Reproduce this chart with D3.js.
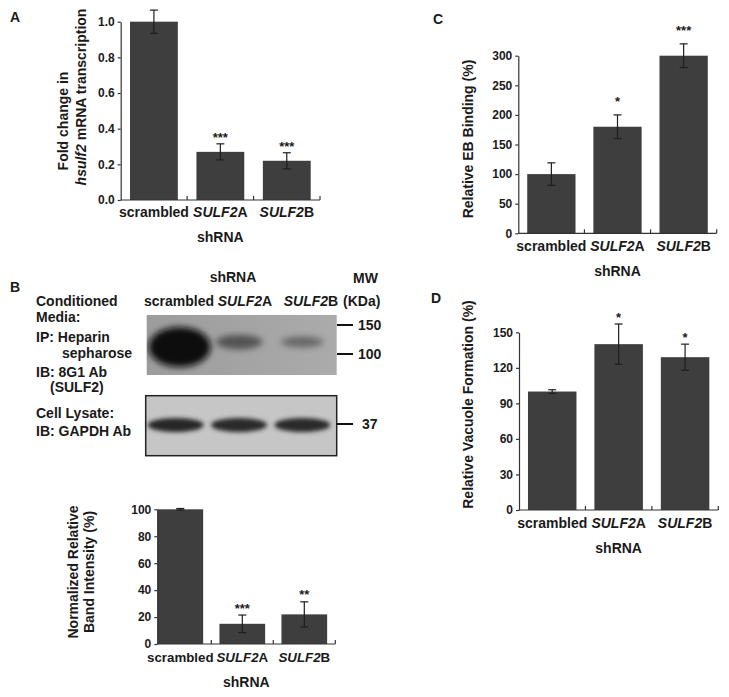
<!DOCTYPE html>
<html>
<head>
<meta charset="utf-8">
<script src="https://cdn.jsdelivr.net/npm/d3@7/dist/d3.min.js"></script>
<style>
  body { margin: 0; background: #fff; }
  text { font-family: "Liberation Sans", Arial, sans-serif; font-weight: bold; fill: #1a1a1a; }
</style>
</head>
<body>
<div id="fig"></div>
<script>
const WIDTH = 729;
const HEIGHT = 697;

// data
const categories = ['scrambled', 'SULF2A', 'SULF2B'];

const mrnaFold = [1.0, 0.27, 0.22];
const mrnaErr = [0.065, 0.045, 0.045];
const mrnaStars = ['', '***', '***'];
const mrnaTicks = [0, 0.2, 0.4, 0.6, 0.8, 1.0];

const ebBinding = [100, 180, 300];
const ebErr = [19, 20, 20];
const ebStars = ['', '*', '***'];
const ebTicks = [0, 50, 100, 150, 200, 250, 300];

const vacuole = [100, 140, 129];
const vacuoleErr = [1.5, 17, 11];
const vacuoleStars = ['', '*', '*'];
const vacuoleTicks = [0, 30, 60, 90, 120, 150];

const bandIntensity = [100, 15, 22];
const bandErr = [0.6, 6.5, 9.3];
const bandStars = ['', '***', '**'];
const bandTicks = [0, 20, 40, 60, 80, 100];

// western blot, relative darkness of each lane
const sulf2Blot = [1.0, 0.45, 0.3];
const gapdhBlot = [1.0, 0.96, 0.96];
const mwTop = ['150', '100'];
const mwBottom = ['37'];

const BAR_COLOR = '#3e3e3e';
const INK = '#1e1e1e';

const svg = d3.select('#fig')
  .append('svg')
    .attr('width', WIDTH)
    .attr('height', HEIGHT);

svg.append('rect').attr('width', WIDTH).attr('height', HEIGHT).attr('fill', '#fff');

// category label with italic "SULF2"
function catLabel(sel, c) {
  if (c.startsWith('SULF2')) {
    sel.append('tspan').attr('font-style', 'italic').text('SULF2');
    sel.append('tspan').text(c.slice(5));
  } else {
    sel.text(c);
  }
}

function barPanel(p) {
  const x = d3.scaleBand()
    .domain(categories)
    .range([p.bandStart, p.x1])
    .paddingInner(p.pad)
    .paddingOuter(p.pad / 2);
  const y = d3.scaleLinear()
    .domain([0, d3.max(p.ticks)])
    .range([p.y0, p.y1]);

  const g = svg.append('g');

  g.selectAll('.bar')
    .data(p.values)
    .enter()
    .append('rect')
      .attr('x', (d, i) => x(categories[i]))
      .attr('y', d => y(d))
      .attr('width', x.bandwidth())
      .attr('height', d => y(0) - y(d))
      .attr('fill', BAR_COLOR);

  // error bars
  p.values.forEach((v, i) => {
    const cx = x(categories[i]) + x.bandwidth() / 2;
    const e = p.errs[i];
    g.append('line')
      .attr('x1', cx).attr('x2', cx)
      .attr('y1', y(v - e)).attr('y2', y(v + e))
      .attr('stroke', INK).attr('stroke-width', 1.2);
    [v - e, v + e].forEach(t => {
      g.append('line')
        .attr('x1', cx - 4).attr('x2', cx + 4)
        .attr('y1', y(t)).attr('y2', y(t))
        .attr('stroke', INK).attr('stroke-width', 1.2);
    });
    if (p.stars[i]) {
      g.append('text')
        .attr('x', cx)
        .attr('y', y(v + e) - p.starGap + 7.5)
        .attr('text-anchor', 'middle')
        .attr('font-size', '13px')
        .attr('font-weight', 'normal')
        .text(p.stars[i]);
    }
  });

  // y axis
  const ax = g.append('g')
    .attr('transform', 'translate(' + p.x0 + ',0)')
    .call(d3.axisLeft(y).tickValues(p.ticks).tickFormat(d3.format(p.fmt))
      .tickSize(3).tickSizeOuter(0).tickPadding(3));
  ax.selectAll('text')
    .attr('font-size', '12px')
    .attr('font-family', '"Liberation Sans", Arial, sans-serif')
    .attr('font-weight', 'bold')
    .attr('fill', INK);
  ax.selectAll('path, line').attr('stroke', '#333').attr('stroke-width', 1.2);

  // x axis with ticks between categories
  g.append('line')
    .attr('x1', p.x0).attr('x2', p.x1)
    .attr('y1', y(0)).attr('y2', y(0))
    .attr('stroke', '#333').attr('stroke-width', 1.2);
  categories.forEach(c => {
    const tx = x(c) + x.bandwidth() + x.step() * p.pad / 2;
    g.append('line')
      .attr('x1', tx).attr('x2', tx)
      .attr('y1', y(0)).attr('y2', y(0) - 4)
      .attr('stroke', '#333').attr('stroke-width', 1.2);
  });

  categories.forEach(c => {
    g.append('text')
      .attr('x', x(c) + x.bandwidth() / 2)
      .attr('y', y(0) + p.catGap)
      .attr('text-anchor', 'middle')
      .attr('font-size', p.catSize || '14px')
      .call(catLabel, c);
  });

  g.append('text')
    .attr('x', (p.x0 + p.x1) / 2)
    .attr('y', y(0) + p.catGap + 25)
    .attr('text-anchor', 'middle')
    .attr('font-size', '14px')
    .text('shRNA');

  return g;
}

function yLabel(x, y, parts) {
  const t = svg.append('text')
    .attr('transform', 'translate(' + x + ',' + y + ') rotate(-90)')
    .attr('text-anchor', 'middle')
    .attr('font-size', '14px');
  parts.forEach(pt => {
    t.append('tspan').attr('font-style', pt[1] ? 'italic' : 'normal').text(pt[0]);
  });
}

function panelLetter(x, y, s) {
  svg.append('text').attr('x', x).attr('y', y).attr('font-size', '14px').text(s);
}

// Panel A
barPanel({x0: 120.7, bandStart: 120.7, x1: 320, y0: 200, y1: 21.7, pad: 0.28,
  values: mrnaFold, errs: mrnaErr, stars: mrnaStars, ticks: mrnaTicks, fmt: '.1f',
  starGap: 9, catGap: 17});
yLabel(68, 121, [['Fold change in', false]]);
yLabel(86, 97, [['hsulf2', true], [' mRNA transcription', false]]);
panelLetter(10, 22, 'A');

// Panel C
barPanel({x0: 518.3, bandStart: 518.3, x1: 716.7, y0: 233.3, y1: 55.7, pad: 0.27,
  values: ebBinding, errs: ebErr, stars: ebStars, ticks: ebTicks, fmt: 'd',
  starGap: 16, catGap: 18});
yLabel(473, 139, [['Relative EB Binding (%)', false]]);
panelLetter(433, 24, 'C');

// Panel D
barPanel({x0: 519, bandStart: 519, x1: 718.3, y0: 510, y1: 332.3, pad: 0.27,
  values: vacuole, errs: vacuoleErr, stars: vacuoleStars, ticks: vacuoleTicks, fmt: 'd',
  starGap: 10, catGap: 18});
yLabel(473, 404.5, [['Relative Vacuole Formation (%)', false]]);
panelLetter(431, 303, 'D');

// Panel B, bar chart
barPanel({x0: 157.3, bandStart: 149.3, x1: 335.3, y0: 644, y1: 509.3, pad: 0.263,
  values: bandIntensity, errs: bandErr, stars: bandStars, ticks: bandTicks, fmt: 'd',
  starGap: 10, catGap: 18, catSize: '13.3px'});
yLabel(78, 572, [['Normalized Relative', false]]);
yLabel(94, 572, [['Band Intensity (%)', false]]);
panelLetter(10, 292, 'B');

// Panel B, western blot
const defs = svg.append('defs');
defs.append('filter').attr('id', 'blur3').attr('x', '-50%').attr('y', '-50%')
  .attr('width', '200%').attr('height', '200%')
  .append('feGaussianBlur').attr('stdDeviation', 3);
defs.append('filter').attr('id', 'blur2').attr('x', '-50%').attr('y', '-50%')
  .attr('width', '200%').attr('height', '200%')
  .append('feGaussianBlur').attr('stdDeviation', 2.2);
const bg = defs.append('linearGradient').attr('id', 'blotbg').attr('x1', 0).attr('x2', 1);
bg.append('stop').attr('offset', '0%').attr('stop-color', '#9c9c9c');
bg.append('stop').attr('offset', '100%').attr('stop-color', '#ababab');

const laneLabel = d3.scaleBand().domain(categories).range([146, 344]);
const lane = d3.scaleBand().domain(categories).range([144, 334]);
const shade = d3.interpolateRgb('#8c8c8c', '#0c0c0c');

svg.append('rect')
  .attr('x', 146.7).attr('y', 315).attr('width', 190).attr('height', 60)
  .attr('fill', 'url(#blotbg)');
const topClip = defs.append('clipPath').attr('id', 'topclip');
topClip.append('rect').attr('x', 146.7).attr('y', 315).attr('width', 190).attr('height', 60);
svg.append('g').attr('clip-path', 'url(#topclip)')
  .selectAll('ellipse')
  .data(sulf2Blot)
  .enter()
  .append('ellipse')
    .attr('cx', (d, i) => lane(categories[i]) + lane.bandwidth() / 2 + (i === 0 ? 4 : 0))
    .attr('cy', (d, i) => i === 0 ? 347 : 342)
    .attr('rx', d => 17 + 14 * d)
    .attr('ry', d => 4 + 16 * d * d)
    .attr('fill', d => shade(d))
    .attr('filter', 'url(#blur3)');

svg.append('rect')
  .attr('x', 145.7).attr('y', 395.7).attr('width', 191).attr('height', 60)
  .attr('fill', '#c6c6c6');
svg.append('g')
  .selectAll('ellipse')
  .data(gapdhBlot)
  .enter()
  .append('ellipse')
    .attr('cx', (d, i) => lane(categories[i]) + lane.bandwidth() / 2)
    .attr('cy', 425)
    .attr('rx', 28)
    .attr('ry', 7)
    .attr('fill', d => d3.interpolateRgb('#9a9a9a', '#262626')(d))
    .attr('filter', 'url(#blur2)');
svg.append('rect')
  .attr('x', 145.7).attr('y', 395.7).attr('width', 191).attr('height', 60)
  .attr('fill', 'none').attr('stroke', '#222').attr('stroke-width', 1.5);

svg.append('text').attr('x', 233).attr('y', 282).attr('text-anchor', 'middle')
  .attr('font-size', '14px').text('shRNA');
categories.forEach(c => {
  svg.append('text')
    .attr('x', laneLabel(c) + laneLabel.bandwidth() / 2)
    .attr('y', 306)
    .attr('text-anchor', 'middle')
    .attr('font-size', '14px')
    .call(catLabel, c);
});
svg.append('text').attr('x', 353).attr('y', 283)
  .attr('font-size', '14px').text('MW');
svg.append('text').attr('x', 343).attr('y', 306)
  .attr('font-size', '14px').text('(KDa)');

const mwY = d3.scaleOrdinal().domain(mwTop.concat(mwBottom)).range([325, 354, 424]);
mwTop.concat(mwBottom).forEach(m => {
  svg.append('line').attr('x1', 337).attr('x2', 353)
    .attr('y1', mwY(m)).attr('y2', mwY(m))
    .attr('stroke', '#111').attr('stroke-width', 2);
  svg.append('text').attr('x', m.length === 2 ? 362 : 358).attr('y', mwY(m) + 5)
    .attr('font-size', '14px').text(m);
});

const blotNotes = [
  ['Conditioned', 36, 306],
  ['Media:', 36, 322],
  ['IP: Heparin', 36, 342],
  ['sepharose', 62, 358],
  ['IB: 8G1 Ab', 36, 377],
  ['(SULF2)', 50, 392],
  ['Cell Lysate:', 36, 418],
  ['IB: GAPDH Ab', 36, 436]
];
blotNotes.forEach(n => {
  svg.append('text').attr('x', n[1]).attr('y', n[2]).attr('font-size', '14px').text(n[0]);
});
</script>
</body>
</html>
